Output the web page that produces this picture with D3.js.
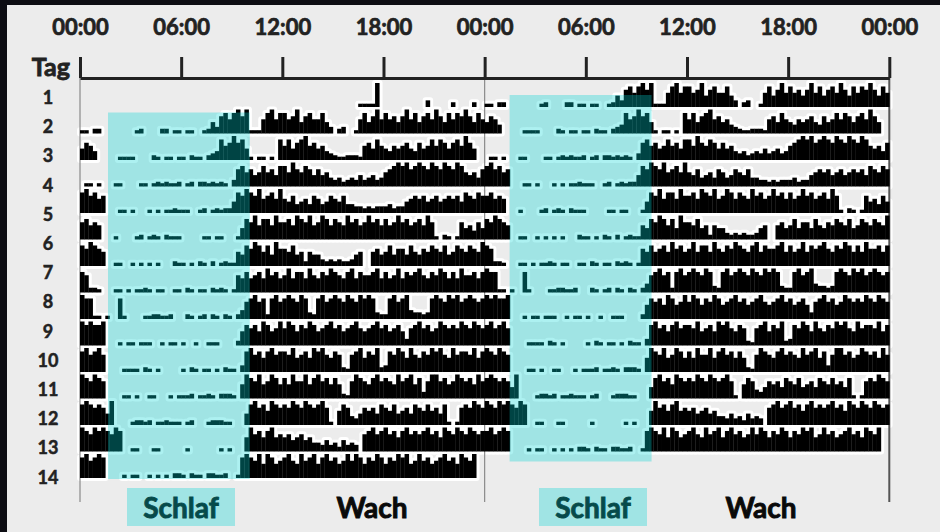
<!DOCTYPE html>
<html lang="de">
<head>
<meta charset="utf-8">
<title>Aktogramm</title>
<script src="https://d3js.org/d3.v7.min.js"></script>
<style>
body { margin: 0; background: #0d0d13; }
svg { display: block; font-family: Lato, "Open Sans", sans-serif; font-weight: 700; }
</style>
</head>
<body>
<svg id="chart" width="940" height="532"></svg>
<script>
// double plot: 48 h across, ticks every 6 h
var tickHours = [0, 6, 12, 18, 24, 30, 36, 42, 48];
var tickLabels = ["00:00", "06:00", "12:00", "18:00", "00:00", "06:00", "12:00", "18:00", "00:00"];
var dayLabels = ["1", "2", "3", "4", "5", "6", "7", "8", "9", "10", "11", "12", "13", "14"];

// sleep window (hours on the 48 h axis)
var sleepBands = [[1.66, 10.07], [25.48, 33.9]];
var bandNames = ["Schlaf", "Wach", "Schlaf", "Wach"];

// activity, 15 min bins, level 0-9, one string per day (4 bins per hour)
var day00 = "0000 0000 0000 0000 0000 0000 0000 0000 0000 0000 0000 0000 0000 0000 0000 0000 0011 1190 0000 0000 0030 0000 2000 0200";
var day01 = "1102 2000 0000 0120 0002 2011 0110 0125 3786 8979 1116 8968 8679 5786 6853 0230 0168 5796 8675 7968 5786 9758 6879 7586";
var day02 = "5764 0000 0111 1000 0210 1101 1021 1023 4867 9785 1011 0108 6857 8967 5643 2112 2216 7586 5465 6754 7568 6875 7869 7500";
var day03 = "0110 1000 1100 0011 0121 2112 0120 2212 1210 3786 7568 6758 8697 6875 7564 3423 4353 4534 6789 8978 9879 8798 7986 5647";
var day04 = "8978 6700 0110 1000 1010 1121 1100 1201 2122 5879 8796 7869 6574 5647 6457 6574 4332 3233 3423 3567 6756 7567 6758 7687";
var day05 = "7867 6000 1000 0120 1210 2111 0000 0110 1100 0158 7968 8697 7869 8796 7986 8769 7867 9786 8679 7867 8697 1021 0175 6475";
var day06 = "8798 7600 1100 1010 1010 0021 1010 2102 0121 1658 7986 8597 7685 6265 5323 2322 3560 0675 6857 7586 5768 7685 6876 8769";
var day07 = "8722 1000 1101 0112 1011 0011 0210 1102 1210 1768 6786 9786 7968 8697 6879 8768 9687 7896 8679 6878 9768 7986 8697 7868";
var day08 = "9881 1010 0810 0001 1221 1200 0210 1202 1021 0247 8978 2897 8987 9832 8978 9879 8798 9832 2897 8943 3238 9879 8978 9878";
var day09 = "9898 8900 0101 1011 1001 0110 1001 0011 1000 0268 7869 8679 7986 8798 6789 7867 8976 7897 8678 6378 9786 7987 8798 7987";
var day10 = "8978 9700 0011 1102 1010 0000 1021 0110 1021 1038 9786 8978 8796 7869 8976 8721 7896 8792 3879 8697 6879 8976 9788 7968";
var day11 = "9879 8700 0011 0100 1100 0101 1120 1121 0222 1069 8796 7986 8697 7968 9786 8621 7987 6897 8769 7896 8379 9786 7987 8697";
var day12 = "8987 8759 0000 1221 2011 2111 0120 0012 2211 0005 8978 6987 8798 7987 8971 0687 4357 6758 7685 6758 7686 7581 0178 7987";
var day13 = "9879 8987 9800 1100 0110 0000 0100 0000 0101 0006 9786 8967 6756 7564 4353 4253 4307 8978 9786 8978 7897 8698 7987 9878";
var day14 = "8978 9800 0010 1100 1010 1022 1021 1022 1120 0189 8796 9867 8976 9789 6897 8679 7986 8798 6879 8967 9786 7897 8698 7900";
var days = [day00, day01, day02, day03, day04, day05, day06, day07, day08, day09, day10, day11, day12, day13, day14];

var svg = d3.select('#chart');

// light panel
svg.append('rect')
    .attr('x', 7).attr('y', 5)
    .attr('width', 933).attr('height', 527)
    .attr('fill', '#ececec');

var x = d3.scaleLinear().domain([0, 48]).range([80, 889.3]);
var rowY = d3.scaleLinear().domain([0, 14]).range([107, 478]);
// steeper height scale so peaks stand out of the mid levels
var barH = d3.scalePow().exponent(1.5).domain([0, 9]).range([2.5, 24]);
var labelY = d3.scaleLinear().domain([1, 14]).range([97, 476.7]);

// build bins: row r shows day r on the left and day r+1 on the right
var bins = [];
days.forEach(function(s, d) {
    var v = s.replace(/\s/g, '').split('').map(Number);
    v.forEach(function(level, i) {
        if (level === 0) return;
        var t = i / 4;
        bins.push({row: d, t: t, v: level});
        if (d > 0) bins.push({row: d - 1, t: t + 24, v: level});
    });
});

function bx(d) { return x(d.t); }
function bw(d) { return x(d.t + 0.25) - x(d.t) + 0.3; }
function by(d) { return rowY(d.row) - barH(d.v); }
function bh(d) { return barH(d.v); }

// white halo around the activity
svg.append('g').selectAll('rect')
    .data(bins).enter().append('rect')
    .attr('x', bx).attr('y', by).attr('width', bw).attr('height', bh)
    .attr('fill', '#fff')
    .attr('stroke', '#fff')
    .attr('stroke-width', 6)
    .attr('stroke-linejoin', 'round');

// frame lines
[0, 24, 48].forEach(function(h, i) {
    svg.append('line')
        .attr('x1', x(h)).attr('x2', x(h))
        .attr('y1', 78).attr('y2', 502)
        .attr('stroke', i === 2 ? '#555' : '#8a8a8a')
        .attr('stroke-width', i === 2 ? 2 : 1.2);
});

// activity bars
svg.append('g').selectAll('rect')
    .data(bins).enter().append('rect')
    .attr('x', bx).attr('y', by).attr('width', bw).attr('height', bh)
    .attr('fill', '#000');

// top axis
var axis = d3.axisTop(x)
    .tickValues(tickHours)
    .tickFormat(function(d, i) { return tickLabels[i]; })
    .tickSize(21)
    .tickSizeOuter(0)
    .tickPadding(22);

var ax = svg.append('g')
    .attr('transform', 'translate(0,78)')
    .call(axis);
ax.select('.domain').attr('stroke', '#222').attr('stroke-width', 3);
ax.selectAll('.tick line').attr('stroke', '#222').attr('stroke-width', 3);
ax.selectAll('.tick text')
    .attr('fill', '#222')
    .attr('stroke', '#222')
    .attr('stroke-width', 0.7)
    .style('font-family', 'Lato, "Open Sans", sans-serif')
    .style('font-weight', 700)
    .style('font-size', '22px');

svg.append('text')
    .attr('x', 70).attr('y', 76)
    .attr('text-anchor', 'end')
    .attr('fill', '#222')
    .attr('stroke', '#222')
    .attr('stroke-width', 0.8)
    .style('font-size', '25px')
    .text('Tag');

// day labels
svg.append('g').selectAll('text')
    .data(dayLabels).enter().append('text')
    .attr('x', 48)
    .attr('y', function(d, i) { return labelY(i + 1); })
    .attr('text-anchor', 'middle')
    .attr('dominant-baseline', 'central')
    .attr('fill', '#222')
    .attr('stroke', '#222')
    .attr('stroke-width', 0.5)
    .style('font-size', '18px')
    .text(function(d) { return d; });

// legend texts under the plot
var nameX = [181, 372, 593, 761];
svg.append('g').selectAll('text')
    .data(bandNames).enter().append('text')
    .attr('x', function(d, i) { return nameX[i]; })
    .attr('y', 518)
    .attr('text-anchor', 'middle')
    .attr('fill', '#0a0a0a')
    .attr('stroke', '#0a0a0a')
    .attr('stroke-width', 0.9)
    .style('font-size', '28px')
    .text(function(d) { return d; });

// translucent teal overlays (sleep window + legend boxes)
var teal = 'rgb(0,212,212)';
var tealOpacity = 0.32;
var bandRows = [[rowY(1) - 21, rowY(14) + 1], [rowY(0) - 12, rowY(13) + 10]];
svg.append('g').selectAll('rect')
    .data(sleepBands).enter().append('rect')
    .attr('x', function(d) { return x(d[0]); })
    .attr('width', function(d) { return x(d[1]) - x(d[0]); })
    .attr('y', function(d, i) { return bandRows[i][0]; })
    .attr('height', function(d, i) { return bandRows[i][1] - bandRows[i][0]; })
    .attr('fill', teal)
    .attr('fill-opacity', tealOpacity);

var legendBoxes = [[127, 235], [539, 647]];
svg.append('g').selectAll('rect')
    .data(legendBoxes).enter().append('rect')
    .attr('x', function(d) { return d[0]; })
    .attr('width', function(d) { return d[1] - d[0]; })
    .attr('y', 488).attr('height', 38)
    .attr('fill', teal)
    .attr('fill-opacity', tealOpacity);
</script>
</body>
</html>
